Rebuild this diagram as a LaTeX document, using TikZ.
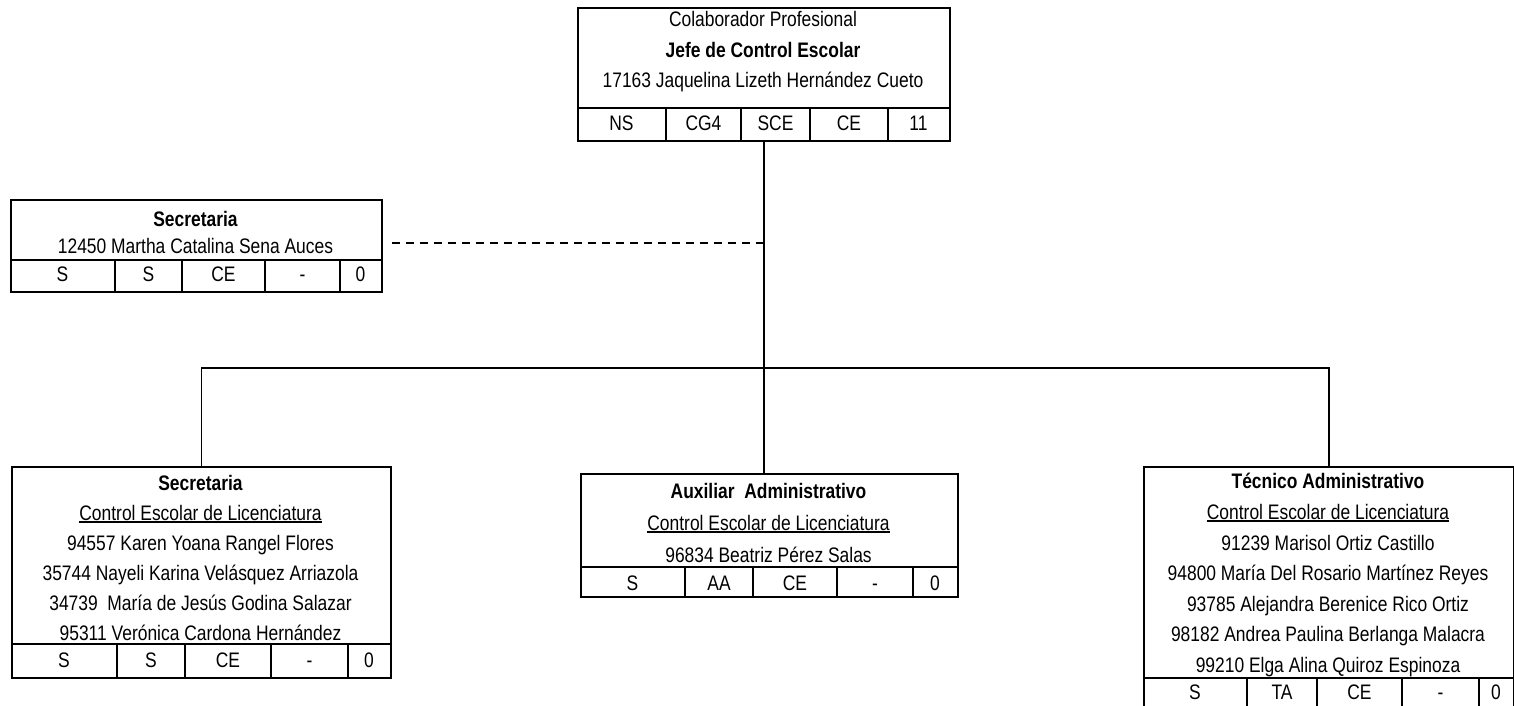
\documentclass[tikz,border=0pt]{standalone}
\usepackage{fontspec}
\setmainfont{Liberation Sans}[FakeStretch=0.83]
\newcommand\myul[1]{\setbox0\hbox{#1}\leavevmode\rlap{\rule[-2.6pt]{\wd0}{1.2pt}}\box0}
\begin{document}
\begin{tikzpicture}[x=1pt,y=-1pt,
  box/.style={draw, line width=1.8pt, inner sep=0pt, anchor=north west},
  txt/.style={inner sep=0pt, anchor=base, font=\fontsize{21}{25}\selectfont},
  grid/.style={line width=1.8pt},
  conn/.style={line width=1.4pt}]
\useasboundingbox (0,0) rectangle (1514,706);

% ---------- top box ----------
\node[box, minimum width=372pt, minimum height=133pt] (T) at (577,7) {};
\node[txt] (T1) at (763,27) {Colaborador Profesional};
\node[txt] (T2) at (763,58) {\bfseries Jefe de Control Escolar};
\node[txt] (T3) at (763,88) {17163 Jaquelina Lizeth Hernández Cueto};
\draw[grid] (577,108) -- (949,108);
\foreach \x in {666,741,810,888} \draw[grid] (\x,108) -- (\x,140);
\node[txt] (Tc1) at (621.5,131) {NS};
\node[txt] (Tc2) at (703.5,131) {CG4};
\node[txt] (Tc3) at (775.5,131) {SCE};
\node[txt] (Tc4) at (849,131) {CE};
\node[txt] (Tc5) at (918.5,131) {11};

% ---------- secretaria (staff) ----------
\node[box, minimum width=371pt, minimum height=92pt] (S1) at (10,199) {};
\node[txt] (S11) at (195.5,226) {\bfseries Secretaria};
\node[txt] (S12) at (195.5,253) {12450 Martha Catalina Sena Auces};
\draw[grid] (10,260) -- (381,260);
\foreach \x in {115,182,265,340} \draw[grid] (\x,260) -- (\x,291);
\node[txt] (S1c1) at (62.5,281) {S};
\node[txt] (S1c2) at (148.5,281) {S};
\node[txt] (S1c3) at (223.5,281) {CE};
\node[txt] (S1c4) at (302.5,281) {-};
\node[txt] (S1c5) at (360.5,281) {0};

% ---------- bottom left ----------
\node[box, minimum width=379pt, minimum height=211pt] (S2) at (11,466) {};
\node[txt] (S21) at (200.5,490) {\bfseries Secretaria};
\node[txt] (S22) at (200.5,520) {\myul{Control Escolar de Licenciatura}};
\node[txt] (S23) at (200.5,550) {94557 Karen Yoana Rangel Flores};
\node[txt] (S24) at (200.5,580) {35744 Nayeli Karina Velásquez Arriazola};
\node[txt] (S25) at (200.5,610) {34739\ \ María de Jesús Godina Salazar};
\node[txt] (S26) at (200.5,640) {95311 Verónica Cardona Hernández};
\draw[grid] (11,644) -- (390,644);
\foreach \x in {117,185,271,348} \draw[grid] (\x,644) -- (\x,677);
\node[txt] (S2c1) at (64,667) {S};
\node[txt] (S2c2) at (151,667) {S};
\node[txt] (S2c3) at (228,667) {CE};
\node[txt] (S2c4) at (309.5,667) {-};
\node[txt] (S2c5) at (369,667) {0};

% ---------- middle ----------
\node[box, minimum width=377pt, minimum height=123pt] (A) at (580,473) {};
\node[txt] (A1) at (768.5,498) {\bfseries Auxiliar\ \ Administrativo};
\node[txt] (A2) at (768.5,530) {\myul{Control Escolar de Licenciatura}};
\node[txt] (A3) at (768.5,562) {96834 Beatriz Pérez Salas};
\draw[grid] (580,567) -- (957,567);
\foreach \x in {685,753,837,913} \draw[grid] (\x,567) -- (\x,596);
\node[txt] (Ac1) at (632.5,590) {S};
\node[txt] (Ac2) at (719,590) {AA};
\node[txt] (Ac3) at (795,590) {CE};
\node[txt] (Ac4) at (875,590) {-};
\node[txt] (Ac5) at (935,590) {0};

% ---------- right ----------
\node[box, minimum width=370pt, minimum height=254pt] (R) at (1143,466) {};
\node[txt] (R1) at (1328,488) {\bfseries Técnico Administrativo};
\node[txt] (R2) at (1328,519) {\myul{Control Escolar de Licenciatura}};
\node[txt] (R3) at (1328,550) {91239 Marisol Ortiz Castillo};
\node[txt] (R4) at (1328,580) {94800 María Del Rosario Martínez Reyes};
\node[txt] (R5) at (1328,611) {93785 Alejandra Berenice Rico Ortiz};
\node[txt] (R6) at (1328,641) {98182 Andrea Paulina Berlanga Malacra};
\node[txt] (R7) at (1328,672) {99210 Elga Alina Quiroz Espinoza};
\draw[grid] (1143,678) -- (1513,678);
\foreach \x in {1247,1317,1402,1479} \draw[grid] (\x,678) -- (\x,720);
\node[txt] (Rc1) at (1195,699) {S};
\node[txt] (Rc2) at (1282,699) {TA};
\node[txt] (Rc3) at (1359.5,699) {CE};
\node[txt] (Rc4) at (1440.5,699) {-};
\node[txt] (Rc5) at (1496,699) {0};

% ---------- connectors ----------
\coordinate (bus) at (0,368);
\draw[conn] (T.south) -- (T.south |- bus);
\draw[conn] (S2.north) -- (S2.north |- bus) -- (R.north |- bus) -- (R.north);
\draw[conn] (T.south |- bus) -- (T.south |- A.north);
\draw[conn, dash pattern=on 8pt off 6pt] ([xshift=9pt]S1.east |- 0,243) -- (T.south |- 0,243);
\end{tikzpicture}
\end{document}
